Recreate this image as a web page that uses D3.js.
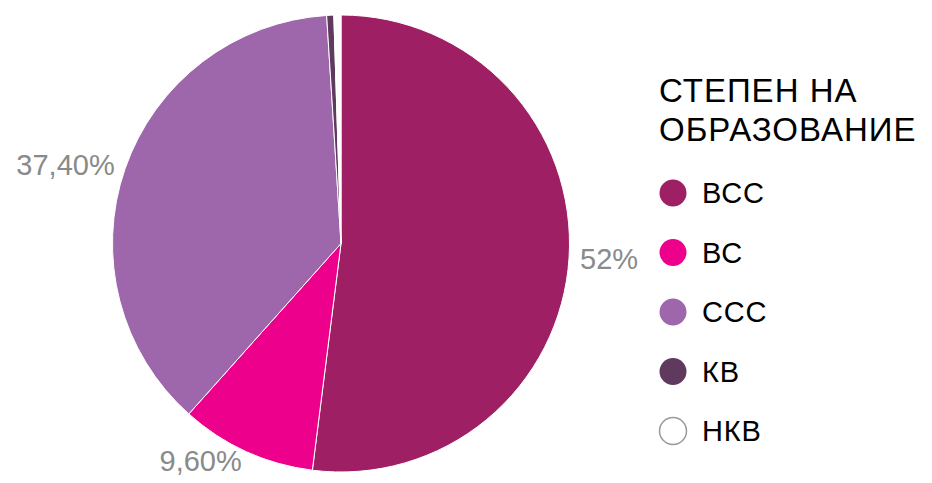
<!DOCTYPE html>
<html>
<head>
<meta charset="utf-8">
<script src="https://cdn.jsdelivr.net/npm/d3@7"></script>
<style>
  body { margin: 0; background: #fff; }
  svg { display: block; font-family: "Liberation Sans", Arial, sans-serif; }
</style>
</head>
<body>
<div id="chart"></div>
<script>
const categories = ['ВСС', 'ВС', 'ССС', 'КВ', 'НКВ'];
const values = [52, 9.6, 37.4, 0.5, 0.5];
const labels = ['52%', '9,60%', '37,40%', null, null];
const colors = ['#9E1F63', '#EC008C', '#9E67AB', '#5F3A5E', '#ffffff'];
const legendTitle = ['СТЕПЕН НА', 'ОБРАЗОВАНИЕ'];

const width = 932, height = 483;
const cx = 341, cy = 243.5, radius = 228.5;

const svg = d3.select("#chart")
    .append("svg")
    .attr("width", width)
    .attr("height", height);

const data = categories.map((c, i) => ({ name: c, value: values[i], label: labels[i], color: colors[i] }));

const pie = d3.pie().sort(null).value(d => d.value);
const arc = d3.arc().innerRadius(0).outerRadius(radius);
const arcs = pie(data);

const g = svg.append("g").attr("transform", `translate(${cx},${cy})`);

g.selectAll("path")
    .data(arcs)
    .enter()
    .append("path")
    .attr("d", arc)
    .attr("fill", d => d.data.color)
    .attr("stroke", "#fff")
    .attr("stroke-width", 1);

// percentage labels just outside the rim
const labelR = radius + 11;
g.selectAll("text.pct")
    .data(arcs.filter(d => d.data.label))
    .enter()
    .append("text")
    .attr("class", "pct")
    .each(function(d) {
        const a = (d.startAngle + d.endAngle) / 2;
        const x = Math.sin(a) * labelR;
        const y = -Math.cos(a) * labelR;
        d3.select(this)
            .attr("x", x)
            .attr("y", y)
            .attr("text-anchor", x >= 0 ? "start" : "end")
            .attr("dominant-baseline", "central");
    })
    .attr("fill", "#8a8a8a")
    .attr("font-size", 29)
    .text(d => d.data.label);

// legend
const legend = svg.append("g").attr("transform", "translate(659,0)");

legend.selectAll("text.title")
    .data(legendTitle)
    .enter()
    .append("text")
    .attr("class", "title")
    .attr("x", 0)
    .attr("y", (d, i) => 102 + i * 39)
    .attr("font-size", 33)
    .attr("letter-spacing", 1)
    .attr("fill", "#000")
    .text(d => d);

const item = legend.selectAll("g.item")
    .data(data)
    .enter()
    .append("g")
    .attr("class", "item")
    .attr("transform", (d, i) => `translate(0,${193 + i * 59.5})`);

item.append("circle")
    .attr("cx", 14)
    .attr("cy", 0)
    .attr("r", 13.5)
    .attr("fill", d => d.color)
    .attr("stroke", d => d.color === '#ffffff' ? '#999' : 'none')
    .attr("stroke-width", 1.5);

item.append("text")
    .attr("x", 43)
    .attr("y", 0)
    .attr("dominant-baseline", "central")
    .attr("font-size", 29)
    .attr("letter-spacing", 0.8)
    .attr("fill", "#000")
    .text(d => d.name);
</script>
</body>
</html>
